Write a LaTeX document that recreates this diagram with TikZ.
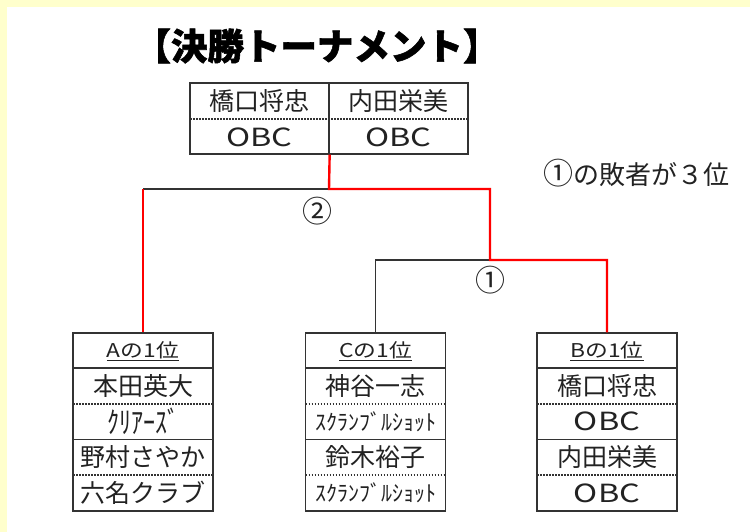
\documentclass[tikz,border=0pt]{standalone}
\usepackage{fontspec}
\setmainfont{Noto Sans CJK JP}
\newfontfamily\titlefont{Noto Sans CJK JP}[BoldFeatures={FakeBold=1.5}]
\definecolor{bgyellow}{HTML}{FFFFCC}
\definecolor{ink}{HTML}{222222}
\definecolor{lineg}{HTML}{333333}
\newcommand\wideobc{\scalebox{1.3}[1]{OBC}}
\newcommand\tallkana[1]{\scalebox{1}[1.25]{#1}}
\newcommand\teambox[7]{%
  \node[teamframe] (#1) at (#2,422) {};
  \draw[sepline] (#2-70,368) -- (#2+70,368);
  \draw[dotline] (#2-70,404) -- (#2+70,404);
  \draw[sepline] (#2-70,439.5) -- (#2+70,439.5);
  \draw[dotline] (#2-70,475) -- (#2+70,475);
  \node[hdr] (#1h) at (#2,351) {\scalebox{1.2}[1]{\underline{#3}}};
  \node[txt] (#1a) at (#2,386) {#4};
  \node[txt] (#1b) at (#2,421.5) {#5};
  \node[txt] (#1c) at (#2,457) {#6};
  \node[txt] (#1d) at (#2,493) {#7};
}
\begin{document}
\begin{tikzpicture}[x=1pt,y=-1pt,
  teamframe/.style={draw=lineg, line width=1.3pt, rectangle, inner sep=0pt, minimum width=140pt, minimum height=178pt},
  topframe/.style={draw=lineg, line width=1.3pt, rectangle, inner sep=0pt, minimum width=139pt, minimum height=71pt},
  sepline/.style={draw=lineg, line width=1.3pt},
  dotline/.style={draw=lineg, line width=1.2pt, dash pattern=on 1.5pt off 1.5pt},
  txt/.style={inner sep=0pt, text=ink, font=\fontsize{25}{25}\selectfont},
  hdr/.style={inner sep=0pt, text=ink, font=\fontsize{19}{19}\selectfont},
  lbl/.style={inner sep=0pt, text=ink, font=\fontsize{26}{26}\selectfont},
  circ/.style={inner sep=0pt, text=ink, font=\fontsize{30}{30}\selectfont},
  redpath/.style={draw=red, line width=2.4pt},
  blackpath/.style={draw=lineg, line width=1.3pt},
]
\fill[bgyellow] (0,0) rectangle (750,532);
\fill[white] (7,7) rectangle (750,532);
\useasboundingbox (0,0) rectangle (750,532);

\node[inner sep=0pt, text=black, font=\fontsize{36.5}{36.5}\titlefont\bfseries] (title) at (317,46) {【決勝トーナメント】};

% top box
\node[topframe] (tl) at (259.5,118.5) {};
\node[topframe] (tr) at (398.5,118.5) {};
\draw[dotline] (190,119) -- (468,119);
\node[txt] (tla) at (259.5,101) {橋口将忠};
\node[txt] (tlb) at (259.5,137) {\wideobc};
\node[txt] (tra) at (398.5,101) {内田栄美};
\node[txt] (trb) at (398.5,137) {\wideobc};

\node[lbl, anchor=west] (note) at (543,173) {{\fontsize{30}{30}\selectfont ①}の敗者が３位};

\teambox{A}{143}{Aの1位}{本田英大}{{\fontsize{24}{24}\selectfont\tallkana{ｸﾘｱｰｽﾞ}}}{野村さやか}{六名クラブ}
\teambox{C}{375.5}{Cの1位}{神谷一志}{{\fontsize{22}{22}\selectfont ｽｸﾗﾝﾌﾞﾙｼｮｯﾄ}}{鈴木裕子}{{\fontsize{22}{22}\selectfont ｽｸﾗﾝﾌﾞﾙｼｮｯﾄ}}
\teambox{B}{607}{Bの1位}{橋口将忠}{\wideobc}{内田栄美}{\wideobc}

% connectors
\coordinate (j2) at (329,189);
\coordinate (j2r) at (490,189);
\coordinate (j1) at (490,260);
\draw[blackpath] (A.north |- j2) -- (j2);
\draw[blackpath] (C.north) |- (j1);
\draw[redpath] (A.north) -- (A.north |- j2);
\draw[redpath] (tl.south east) -- (j2) -- (j2r) -- (j1) -| (B.north);

\node[circ] (m2) at (317,211) {②};
\node[circ] (m1) at (490,280) {①};
\end{tikzpicture}
\end{document}
